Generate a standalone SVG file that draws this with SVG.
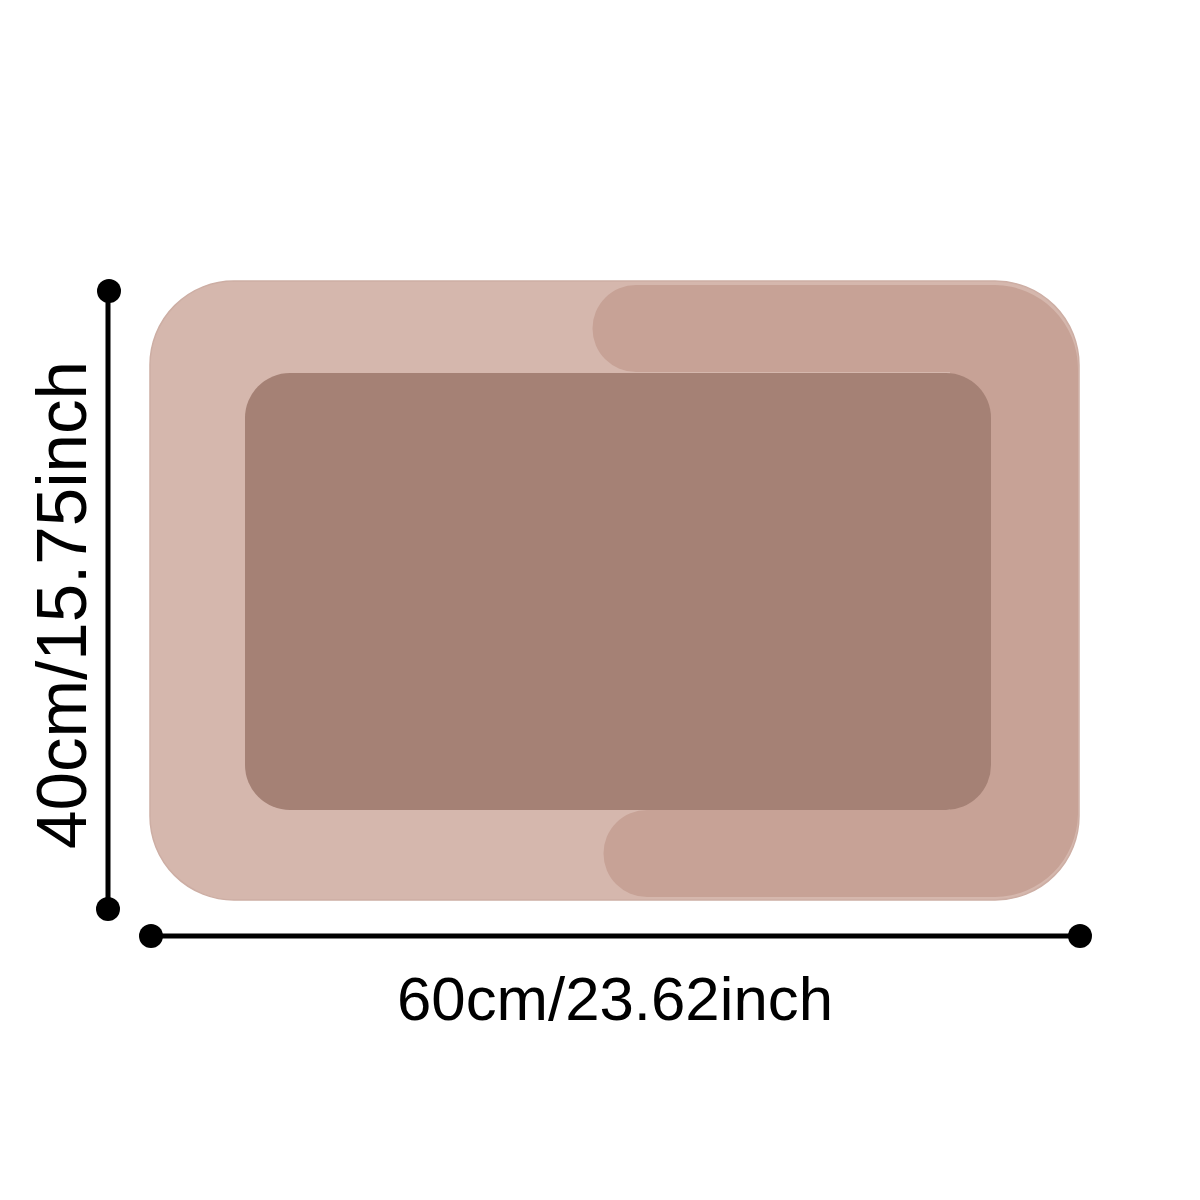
<svg xmlns="http://www.w3.org/2000/svg" width="1200" height="1200" viewBox="0 0 1200 1200">
<style>
.dim{stroke:#000;stroke-width:5;fill:none}
.dot{fill:#000}
.lbl{font-family:"Liberation Sans",Arial,sans-serif;fill:#000}
</style>
<rect width="1200" height="1200" fill="#fff"/>
<g id="mat">
<rect x="150" y="281" width="929" height="619" rx="84" ry="84" fill="#D5B7AD" stroke="#CDAEA4" stroke-width="1.5"/>
<path d="M636,285 H995 A84,84 0 0 1 1078,369 V814 A84,84 0 0 1 995,897 H647 A43.5,43.5 0 0 1 647,810 H950 V372 H636 A43.5,43.5 0 0 1 636,285 Z" fill="#C7A296"/>
<rect x="245" y="373" width="746" height="437" rx="45" ry="45" fill="#A58175"/>
</g>
<g id="connectors">
<line class="dim" x1="108" y1="291" x2="108" y2="908"/>
<circle class="dot" cx="109" cy="291" r="12"/>
<circle class="dot" cx="108" cy="909" r="12"/>
<line class="dim" x1="151" y1="936" x2="1080" y2="936"/>
<circle class="dot" cx="151" cy="936" r="12"/>
<circle class="dot" cx="1080" cy="936" r="12"/>
</g>
<g id="label-height">
<text class="lbl" transform="translate(86,605) rotate(-90)" text-anchor="middle" font-size="70" textLength="488" lengthAdjust="spacingAndGlyphs">40cm/15.75inch</text>
</g>
<g id="label-width">
<text class="lbl" x="615" y="1020" text-anchor="middle" font-size="62" textLength="436" lengthAdjust="spacingAndGlyphs">60cm/23.62inch</text>
</g>
</svg>
